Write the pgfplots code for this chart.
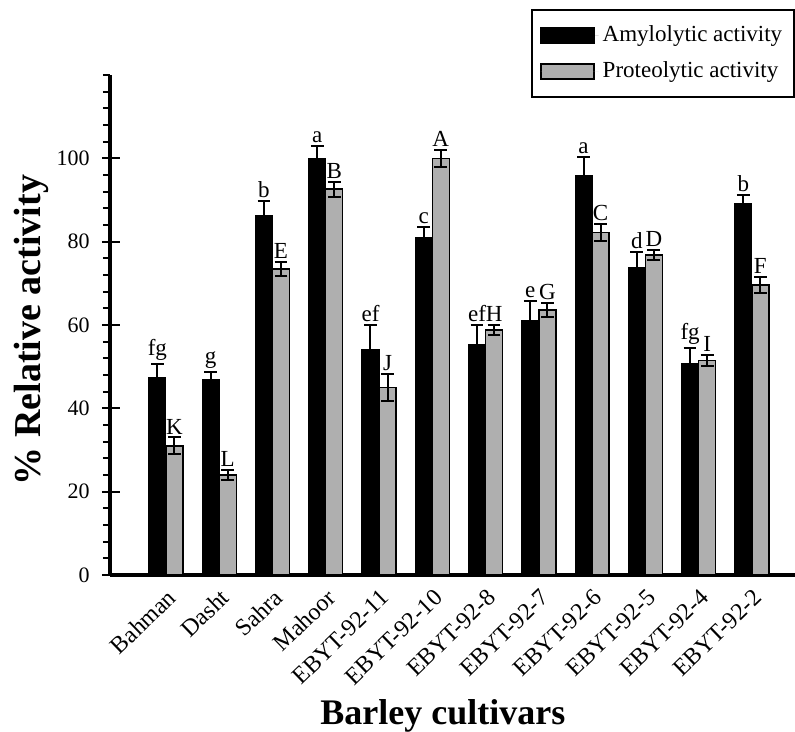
\documentclass[border=0pt]{standalone}
\usepackage{fontspec}
\setmainfont{Liberation Serif}
\usepackage{pgfplots}
\usepackage{pgfplotstable}
\pgfplotsset{compat=1.18}
\definecolor{bargray}{RGB}{175,175,175}

\pgfplotstableread{
x A Aerr P Perr Alab Plab
0 47.4 3.2 31.0 2.0 fg K
1 46.8 2.0 24.0 1.2 g L
2 86.2 3.6 73.4 1.7 b E
3 100.0 3.0 92.6 1.8 a B
4 54.0 6.0 45.0 3.3 ef J
5 81.0 2.6 100.0 2.0 c A
6 55.4 4.6 58.8 1.2 ef H
7 61.0 4.8 63.6 1.6 e G
8 95.8 4.5 82.2 2.0 a C
9 73.8 3.8 76.8 1.2 d D
10 50.8 3.6 51.5 1.3 fg I
11 89.2 2.0 69.6 2.0 b F
}\datatable

\begin{document}
\begin{tikzpicture}
\begin{axis}[
  scale only axis, width=342.5pt, height=250pt,
  xmin=-1.05, xmax=11.81, ymin=0, ymax=120,
  clip=false,
  axis lines=left,
  axis line style={-, line width=1.7pt},
  xtick={0,...,11},
  xticklabels={Bahman,Dasht,Sahra,Mahoor,EBYT-92-11,EBYT-92-10,EBYT-92-8,EBYT-92-7,EBYT-92-6,EBYT-92-5,EBYT-92-4,EBYT-92-2},
  x tick style={draw=none},
  xticklabel style={rotate=44, anchor=east, font=\fontsize{12}{14}\selectfont, inner sep=1pt, yshift=-6pt, xshift=-0.5pt},
  ytick={0,20,...,100},
  minor ytick={0,4,...,120},
  y tick style={black, line width=0.9pt},
  tick align=outside, major tick length=4pt, minor tick length=3.5pt,
  extra y ticks={0,20,...,100}, extra y tick labels={},
  extra y tick style={tick align=inside, major tick length=5pt},
  yticklabel style={font=\fontsize{11}{13}\selectfont, inner sep=1pt, xshift=-5pt},
  /pgf/number format/assume math mode=true,
  ylabel={\% Relative activity},
  every axis y label/.style={at={(axis description cs:-0.115,0.49)}, rotate=90, anchor=center, font=\bfseries\fontsize{19}{22}\selectfont},
  xlabel={Barley cultivars},
  every axis x label/.style={at={(axis description cs:0.486,-0.298)}, anchor=base, font=\bfseries\fontsize{18}{21}\selectfont},
  legend style={at={(axis description cs:1,1)}, anchor=north east, yshift=33pt,
    draw=black, line width=0.8pt, inner xsep=4pt, inner ysep=6pt, row sep=4.5pt,
    font=\fontsize{11.5}{13}\selectfont, legend cell align=left},
]
\coordinate (O) at (rel axis cs:0,0);
\addplot[ybar, bar width=0.32, bar shift=0pt, fill=black, draw=black, line width=0.5pt,
  legend image code/.code={\draw[fill=black, draw=black, line width=0.8pt] (0pt,-3.75pt) rectangle (26.5pt,3.75pt); \path[draw=none] (0pt,0pt) -- (29pt,0pt);},
  error bars/.cd, y dir=both, y explicit,
  error bar style={line width=1pt, black},
  error mark options={rotate=90, mark size=3.2pt, line width=1pt, black}]
  table[x expr=\thisrow{x}-0.16, y=A, y error=Aerr] {\datatable};
\addlegendentry{Amylolytic activity}
\addplot[ybar, bar width=0.32, bar shift=0pt, fill=bargray, draw=black, line width=0.7pt,
  legend image code/.code={\draw[fill=bargray, draw=black, line width=0.8pt] (0pt,-3.75pt) rectangle (26.5pt,3.75pt); \path[draw=none] (0pt,0pt) -- (29pt,0pt);},
  error bars/.cd, y dir=both, y explicit,
  error bar style={line width=1pt, black},
  error mark options={rotate=90, mark size=3.2pt, line width=1pt, black}]
  table[x expr=\thisrow{x}+0.16, y=P, y error=Perr] {\datatable};
\addlegendentry{Proteolytic activity}
\addplot[forget plot, draw=none, mark=none, nodes near coords, point meta=explicit symbolic,
  nodes near coords style={anchor=south, inner sep=1.5pt, font=\fontsize{11.5}{13}\selectfont}]
  table[x expr=\thisrow{x}-0.16, y expr=\thisrow{A}+\thisrow{Aerr}, meta=Alab] {\datatable};
\addplot[forget plot, draw=none, mark=none, nodes near coords, point meta=explicit symbolic,
  nodes near coords style={anchor=south, inner sep=1.5pt, font=\fontsize{11.5}{13}\selectfont}]
  table[x expr=\thisrow{x}+0.16, y expr=\thisrow{P}+\thisrow{Perr}, meta=Plab] {\datatable};
\end{axis}
\pgfresetboundingbox
\path (O) ++(-55pt,-78pt) rectangle ++(397.5pt,365.5pt);
\end{tikzpicture}
\end{document}
